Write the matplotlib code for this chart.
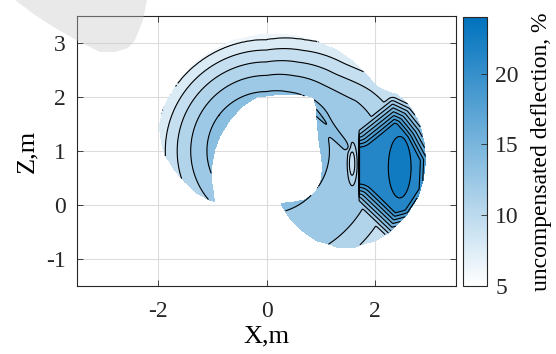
import numpy as np
import matplotlib.pyplot as plt
from matplotlib.path import Path
from matplotlib.colors import LinearSegmentedColormap, Normalize
from matplotlib.cm import ScalarMappable
from matplotlib.patches import Polygon

plt.rcParams['font.family'] = ['Liberation Serif', 'DejaVu Serif']
plt.rcParams['axes.unicode_minus'] = False

# workspace outline (X, Z in m): outer edge, then the hole
outline_x = [-0.82, -1.05, -1.3, -1.52, -1.72, -1.88, -1.95, -1.99, -1.94, -1.82, -1.62,
             -1.35, -1.0, -0.6, -0.15, 0.15, 0.5, 0.9, 1.25, 1.56, 1.82, 2.05, 2.25, 2.42,
             2.58, 2.74, 2.86, 2.93, 2.95, 2.9, 2.78, 2.58, 2.3, 2.0, 1.65, 1.3, 0.95,
             0.65, 0.42, 0.26,
             0.45, 0.7, 0.88, 1.0, 1.03, 1.0, 0.95, 0.92, 0.9, 0.85, 0.6, 0.2, -0.2,
             -0.45, -0.65, -0.82, -0.94, -1.0, -1.01, -0.97, -0.95]
outline_z = [0.02, 0.08, 0.22, 0.42, 0.66, 0.92, 1.15, 1.45, 1.72, 1.98, 2.3,
             2.6, 2.87, 3.06, 3.16, 3.18, 3.15, 3.05, 2.9, 2.7, 2.45, 2.2, 2.1, 2.05,
             1.92, 1.7, 1.42, 1.1, 0.8, 0.45, 0.1, -0.22, -0.5, -0.68, -0.78, -0.78, -0.68,
             -0.48, -0.25, 0.03,
             0.05, 0.1, 0.22, 0.45, 0.7, 0.95, 1.25, 1.6, 1.85, 1.99, 2.03, 2.03, 1.98,
             1.82, 1.6, 1.33, 1.05, 0.75, 0.45, 0.2, 0.05]

# deflection vs distance from the hole centre (0, 1), upper/left part of the arc
rho_left = [0.9, 1.0, 1.1, 1.4, 1.65, 1.87, 2.06, 2.4, 3.0]
val_left = [13.9, 13.6, 13.0, 11.5, 10.0, 8.5, 7.0, 6.0, 5.5]
theta_knots = [-120, 10, 30, 50, 70, 90, 240]
stretch = [1.3, 1.3, 1.25, 1.15, 1.06, 1.0, 1.0]
# lower/right part of the arc
rho_right = [0.9, 1.05, 1.2, 1.5, 1.9, 2.1, 2.45, 2.8]
val_right = [13.4, 13.3, 12.9, 12.4, 12.1, 11.4, 10.0, 8.5]

# zone of high deflection on the right (outline of its 13 % edge)
blob_x = [1.71, 2.33, 2.6, 2.86, 3.15, 3.12, 2.75, 2.3, 1.71]
blob_z = [1.38, 1.87, 1.74, 1.42, 0.9, 0.2, -0.35, -0.48, 0.08]
blob_low, blob_high, blob_peak = 13.0, 21.3, 23.2
peak_x, peak_z = 2.46, 0.7
dip_x, dip_z, dip_depth = 1.58, 0.77, 3.6
tongue_x = [0.8, 1.48]
tongue_z = [1.85, 1.08]
tongue_height = 1.4

levels = [4, 5.5, 7, 8.5, 10, 11.5, 13, 14.5, 16, 17.5, 19, 20.5, 22, 23.5, 25]

X, Z = np.meshgrid(np.arange(-2.1, 3.1, 0.02), np.arange(-1.0, 3.4, 0.02))
pts = np.column_stack([X.ravel(), Z.ravel()])
r = np.hypot(X, Z - 1.0)
th = np.degrees(np.arctan2(Z - 1.0, X))
th = np.where(th < -120, th + 360, th)

left = np.interp(r / np.interp(th, theta_knots, stretch), rho_left, val_left)
right = np.interp(r, rho_right, val_right)
s = np.clip((50 - th) / 40, 0, 1)
w = s * s * (3 - 2 * s)
F = w * right + (1 - w) * left


def seg_dist(x0, z0, x1, z1):
    vx, vz = x1 - x0, z1 - z0
    t = np.clip(((X - x0) * vx + (Z - z0) * vz) / (vx * vx + vz * vz), 0, 1)
    return np.hypot(X - x0 - t * vx, Z - z0 - t * vz)


# finger of higher values right of the hole
ds = seg_dist(tongue_x[0], tongue_z[0], tongue_x[1], tongue_z[1])
F = F + tongue_height * np.exp(-(ds / 0.07) ** 2)

# small local dip
F = F - dip_depth * np.exp(-(((X - dip_x) / 0.075) ** 2 + ((Z - dip_z) / 0.33) ** 2))

# steep-sided plateau with a peak
db = np.min([seg_dist(blob_x[i], blob_z[i], blob_x[i + 1], blob_z[i + 1])
             for i in range(len(blob_x) - 1)], axis=0)
in_blob = Path(np.column_stack([blob_x, blob_z])).contains_points(pts).reshape(X.shape)
db = np.where(in_blob, db, -db)
blob = blob_low + (blob_high - blob_low) * np.minimum(db, 0.34) / 0.34
blob = blob + (blob_peak - blob_high) * np.exp(-(((X - peak_x) / 0.21) ** 2 + ((Z - peak_z) / 0.57) ** 2))
F = np.maximum(F, blob)

inside = Path(np.column_stack([outline_x, outline_z])).contains_points(pts).reshape(X.shape)
F = np.ma.masked_where(~inside, F)

cmap = LinearSegmentedColormap.from_list('wb', ['#FFFFFF', '#0072BD'])
norm = Normalize(5, 24)

fig = plt.figure(figsize=(5.56, 3.54), dpi=100)
ax = fig.add_axes([77 / 556, 68 / 354, 379 / 556, 270 / 354])
ax.contourf(X, Z, F, levels=levels, cmap=cmap, norm=norm)
ax.contour(X, Z, F, levels=levels[1:-1], colors='k', linewidths=0.8)

ax.set_xlim(-3.5, 3.5)
ax.set_ylim(-1.5, 3.5)
ax.set_xticks([-2, 0, 2])
ax.set_yticks([-1, 0, 1, 2, 3])
ax.set_axisbelow(True)
ax.grid(True, color='#DCDCDC', linewidth=0.8)
ax.tick_params(direction='in', top=True, right=True, length=4, width=0.6,
               labelsize=17, pad=8, colors='#262626')
ax.tick_params(axis='x', pad=11)
for sp in ax.spines.values():
    sp.set_color('#262626')
    sp.set_linewidth(0.8)
ax.set_xlabel('X,m', fontsize=19, labelpad=2)
ax.set_ylabel('Z,m', fontsize=19, labelpad=6)

cax = fig.add_axes([463 / 556, 68 / 354, 24 / 556, 269 / 354])
cb = fig.colorbar(ScalarMappable(norm=norm, cmap=cmap), cax=cax)
cb.set_ticks([5, 10, 15, 20])
cb.ax.tick_params(direction='in', length=4, width=0.6, labelsize=17, pad=6, colors='#262626')
cb.outline.set_edgecolor('#262626')
cb.outline.set_linewidth(0.8)
cb.set_label('uncompensated deflection, %', fontsize=17, labelpad=9)

# faint watermark in the top left corner
mark_px = [(15, 0), (35, 15), (55, 28), (80, 42), (100, 52), (115, 52), (128, 48),
           (135, 40), (143, 20), (147, 0)]
mark = Polygon([(px / 556, 1 - py / 354) for px, py in mark_px], closed=True,
               transform=fig.transFigure, facecolor='#C8C8C8', edgecolor='none',
               alpha=0.4, zorder=10)
fig.patches.append(mark)

fig.savefig('out.png', dpi=100)
